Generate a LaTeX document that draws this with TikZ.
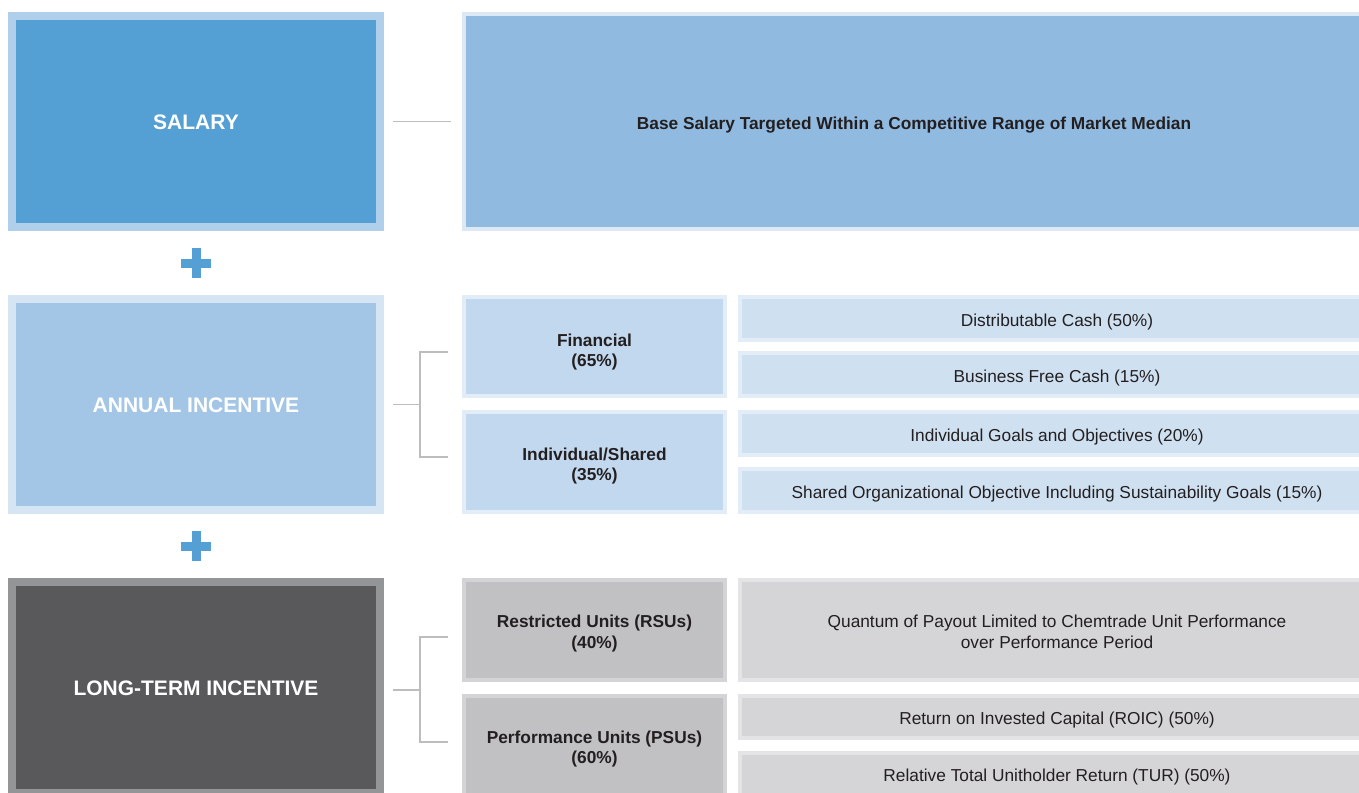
\documentclass[tikz,border=0pt]{standalone}
\usepackage{fontspec}
\setmainfont{Liberation Sans}
\usetikzlibrary{calc}
\definecolor{salfill}{HTML}{549FD3}
\definecolor{salrim}{HTML}{B0CFEA}
\definecolor{basefill}{HTML}{91BAE1}
\definecolor{baserim}{HTML}{DCE8F4}
\definecolor{aifill}{HTML}{A4C6E6}
\definecolor{airim}{HTML}{D5E5F4}
\definecolor{midfill}{HTML}{C2D8EE}
\definecolor{midrim}{HTML}{E3EDF8}
\definecolor{lightfill}{HTML}{CFE0F1}
\definecolor{lightrim}{HTML}{E3EDF8}
\definecolor{ltifill}{HTML}{59595B}
\definecolor{ltirim}{HTML}{949597}
\definecolor{greyfill}{HTML}{C1C1C3}
\definecolor{greyrim}{HTML}{D4D4D6}
\definecolor{paleFill}{HTML}{D5D5D7}
\definecolor{paleRim}{HTML}{E4E4E6}
\definecolor{linkgrey}{HTML}{BDBDBD}
\definecolor{inkdark}{HTML}{231F20}

\begin{document}
\begin{tikzpicture}[x=1pt,y=-1pt,
  box/.style={rectangle,inner sep=0pt,align=center,text=inkdark,text height=19.5pt,
    font=\fontsize{17.3}{20.5}\selectfont},
  bigbox/.style={box,line width=8pt,minimum width=368pt,minimum height=211pt,
    text=white,text height=17pt,font=\fontsize{21}{25}\selectfont\bfseries},
  midbox/.style={box,line width=4pt,minimum width=261pt,minimum height=100pt,
    text height=40pt,font=\fontsize{17.3}{20.5}\selectfont\bfseries},
  widebox/.style={box,line width=4pt,minimum width=634pt,minimum height=43pt},
  link/.style={draw=linkgrey,line width=1.5pt},
  plus/.style={salfill,line width=9pt}]

\path[use as bounding box,clip] (0,0) rectangle (1359,792);

% salary row
\node[bigbox,draw=salrim,fill=salfill] (salary) at (196,121.5) {SALARY};
\node[box,draw=baserim,fill=basefill,line width=4pt,minimum width=900pt,
  minimum height=215pt,font=\fontsize{17.3}{20.5}\selectfont\bfseries]
  (base) at (914,121.5) {Base Salary Targeted Within a Competitive Range of Market Median};
\draw[link,shorten <=9pt,shorten >=11pt] (salary) -- (base);

% annual incentive row
\node[bigbox,draw=airim,fill=aifill] (annual) at (196,404.5) {ANNUAL INCENTIVE};
\node[midbox,draw=midrim,fill=midfill,minimum height=99pt,text height=44pt] (financial) at (594.5,346.5) {Financial\\(65\%)};
\node[midbox,draw=midrim,fill=midfill,text height=41.5pt] (individual) at (594.5,462) {Individual/Shared\\(35\%)};
\node[widebox,draw=lightrim,fill=lightfill] (distcash) at (1057,318.5) {Distributable Cash (50\%)};
\node[widebox,draw=lightrim,fill=lightfill] (freecash) at (1057,374.5) {Business Free Cash (15\%)};
\node[widebox,draw=lightrim,fill=lightfill] (goals) at (1057,433.5) {Individual Goals and Objectives (20\%)};
\node[widebox,draw=lightrim,fill=lightfill] (shared) at (1057,490.5) {Shared Organizational Objective Including Sustainability Goals (15\%)};
\coordinate (aifork) at ($(annual.east)+(36,0)$);
\draw[link] ($(annual.east)+(9,0)$) -- (aifork);
\draw[link] ($(financial.west)+(-14,5.5)$) -| (aifork) |- ($(individual.west)+(-14,-5)$);

% long-term incentive row
\node[bigbox,draw=ltirim,fill=ltifill] (longterm) at (196,687.5) {LONG-TERM INCENTIVE};
\node[midbox,draw=greyrim,fill=greyfill] (rsu) at (594.5,630) {Restricted Units (RSUs)\\(40\%)};
\node[midbox,draw=greyrim,fill=greyfill,text height=39.5pt] (psu) at (594.5,746) {Performance Units (PSUs)\\(60\%)};
\node[widebox,draw=paleRim,fill=paleFill,minimum height=100pt,text height=37pt] (payout) at (1057,630)
  {Quantum of Payout Limited to Chemtrade Unit Performance\\over Performance Period};
\node[widebox,draw=paleRim,fill=paleFill,minimum height=42pt] (roic) at (1057,717) {Return on Invested Capital (ROIC) (50\%)};
\node[widebox,draw=paleRim,fill=paleFill,minimum height=42pt] (tur) at (1057,774) {Relative Total Unitholder Return (TUR) (50\%)};
\coordinate (ltifork) at ($(longterm.east)+(36,2.5)$);
\draw[link] ($(longterm.east)+(9,2.5)$) -- (ltifork);
\draw[link] ($(rsu.west)+(-14,7)$) -| (ltifork) |- ($(psu.west)+(-14,-4)$);

% plus signs
\coordinate (plusA) at ($(salary.south)!0.5!(annual.north)$);
\coordinate (plusB) at ($(annual.south)!0.5!(longterm.north)$);
\foreach \p in {plusA,plusB}{
  \draw[plus] ($(\p)+(-15,0)$) -- ($(\p)+(15,0)$);
  \draw[plus] ($(\p)+(0,-15)$) -- ($(\p)+(0,15)$);
}
\end{tikzpicture}
\end{document}
